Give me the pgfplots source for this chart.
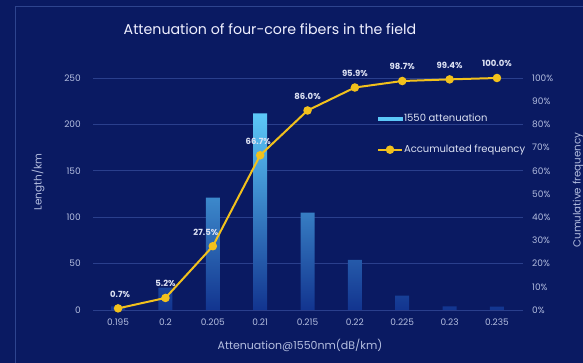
\documentclass[border=0pt]{standalone}
\usepackage{pgfplots}
\pgfplotsset{compat=1.18}
\usepackage{fontspec}
\setmainfont{Poppins}
\definecolor{bg}{HTML}{0A1A62}
\definecolor{framec}{HTML}{2E448E}
\definecolor{gridc}{HTML}{2A3F8C}
\definecolor{tickc}{HTML}{B4BEE0}
\definecolor{gold}{HTML}{F2C11C}
\definecolor{bartop}{HTML}{5CC8F8}
\definecolor{barbot}{HTML}{12348F}
\definecolor{lab}{HTML}{DDE2F3}
\begin{document}
\begin{tikzpicture}
\fill[bg] (0,0) rectangle (583pt,363pt);
\useasboundingbox (0,0) rectangle (583pt,363pt);
\draw[framec, line width=0.8pt] (15pt,-2pt) -- (15pt,357pt) -- (590pt,357pt);
\node[text=white!94!blue, font=\fontsize{14.2}{16}\selectfont] at (270pt,334pt) {Attenuation of four-core fibers in the field};
\node[text=tickc, rotate=90, font=\fontsize{10.5}{12}\selectfont] at (38pt,181pt) {Length/km};
\node[text=tickc, rotate=90, font=\fontsize{10.3}{12}\selectfont] at (578pt,173pt) {Cumulative frequency};
\node[text=tickc, font=\fontsize{11}{12}\selectfont] at (300pt,18pt) {Attenuation@1550nm(dB/km)};
\begin{axis}[
  at={(93pt,53pt)}, anchor=south west, scale only axis,
  width=430pt, height=232pt,
  xmin=-0.53, xmax=8.55, ymin=0, ymax=250,
  ytick={0,50,...,250},
  xtick={0,...,8},
  xticklabels={0.195,0.2,0.205,0.21,0.215,0.22,0.225,0.23,0.235},
  axis line style={draw=none},
  ymajorgrids, xmajorgrids=false,
  grid style={draw=gridc, line width=0.6pt},
  tick pos=left, tick align=inside,
  major tick length=2.5pt,
  xtick style={draw=white!85!blue, line width=0.8pt},
  ytick style={draw=none},
  /pgf/number format/assume math mode=true,
  ticklabel style={text=tickc, font=\fontsize{9}{10}\selectfont, inner sep=0pt},
  yticklabel style={xshift=-12pt},
  xticklabel style={yshift=-9pt},
  clip=false,
]
\addplot[ybar, bar width=14pt, draw=none, top color=bartop, bottom color=barbot]
 coordinates {(0,4) (1,24) (2,121) (3,212) (4,105) (5,54) (6,15.5) (7,4) (8,3.5)};
\end{axis}
\begin{axis}[
  at={(93pt,53pt)}, anchor=south west, scale only axis,
  width=430pt, height=232pt,
  xmin=-0.53, xmax=8.55, ymin=0, ymax=100,
  ytick={0,10,...,100},
  yticklabel={\pgfmathprintnumber{\tick}\%},
  axis line style={draw=none},
  xtick=\empty,
  axis y line*=right,
  ytick style={draw=none},
  /pgf/number format/assume math mode=true,
  ticklabel style={text=tickc, font=\fontsize{9}{10}\selectfont, inner sep=0pt},
  yticklabel style={xshift=9pt},
  clip=false,
  legend style={at={(0.66,0.758)}, anchor=west, draw=none, fill=none,
    text=lab, font=\fontsize{10}{11}\selectfont, inner sep=0pt,
    nodes={inner sep=1pt}, row sep=20pt},
  legend cell align=left,
]
\addlegendimage{legend image code/.code={\fill[bartop] (0pt,-1.6pt) rectangle (24pt,1.6pt);}}
\addlegendentry{1550 attenuation}
\addplot[gold, line width=2pt, mark=*, mark size=3.2pt, mark options={fill=gold, draw=gold},
  visualization depends on={\thisrow{dx} \as \dx},
  nodes near coords={\pgfmathprintnumber[fixed,fixed zerofill,precision=1,assume math mode=true]{\pgfplotspointmeta}\%},
  point meta=y,
  every node near coord/.append style={text=lab, font=\bfseries\fontsize{8.5}{9}\selectfont, inner sep=0pt, yshift=10pt, xshift=\dx pt},
  legend image code/.code={\draw[gold, line width=2pt] (0pt,0pt) -- (24pt,0pt); \fill[gold] (12pt,0pt) circle (3.2pt);}]
 table {
x y dx
0 0.7 2
1 5.2 0
2 27.5 -7
3 66.7 -2
4 86.0 0
5 95.9 0
6 98.7 0
7 99.4 0
8 100.0 0
};
\addlegendentry{Accumulated frequency}
\end{axis}
\end{tikzpicture}
\end{document}
